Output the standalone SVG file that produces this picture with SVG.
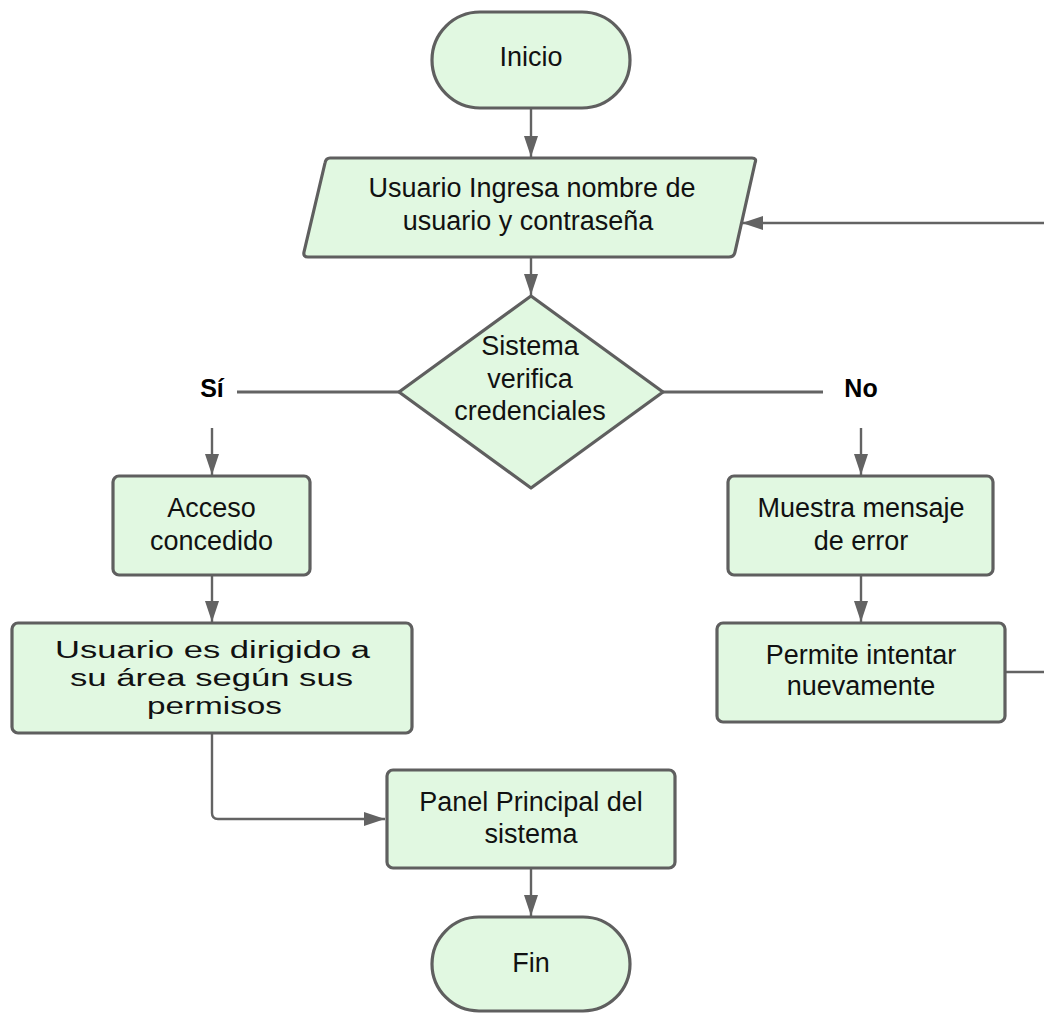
<svg xmlns="http://www.w3.org/2000/svg" width="1044" height="1014" viewBox="0 0 1044 1014">
  <defs>
    <style>
      .node { fill: #e1f8e1; stroke: #5f5f5f; stroke-width: 3.2; stroke-linejoin: round; }
      .lbl { font-family: "Liberation Sans", Arial, sans-serif; font-size: 27px; fill: #111; text-anchor: middle; }
      .wide { font-family: "Liberation Sans", Arial, sans-serif; font-size: 23px; fill: #111; text-anchor: middle; }
      .branch { font-family: "Liberation Sans", Arial, sans-serif; font-size: 25px; font-weight: bold; fill: #000; text-anchor: middle; }
      .edge { fill: none; stroke: #636363; stroke-width: 2.4; }
      .edge-thick { fill: none; stroke: #636363; stroke-width: 3.2; }
    </style>
    <marker id="arrow" markerUnits="userSpaceOnUse" markerWidth="21" markerHeight="15" refX="21" refY="7.5" orient="auto">
      <path d="M0,0.5 L21,7.5 L0,14.5 Z" fill="#636363"/>
    </marker>
  </defs>

  <rect width="1044" height="1014" fill="#ffffff"/>

  <!-- connectors -->
  <g id="connectors">
    <line class="edge" x1="531" y1="109" x2="531" y2="157" marker-end="url(#arrow)"/>
    <line class="edge" x1="531" y1="258" x2="531" y2="295" marker-end="url(#arrow)"/>
    <line class="edge-thick" x1="399" y1="392" x2="237" y2="392"/>
    <line class="edge-thick" x1="663" y1="392" x2="823" y2="392"/>
    <line class="edge" x1="212" y1="428" x2="212" y2="475" marker-end="url(#arrow)"/>
    <line class="edge" x1="861" y1="428" x2="861" y2="475" marker-end="url(#arrow)"/>
    <line class="edge" x1="212" y1="576" x2="212" y2="622" marker-end="url(#arrow)"/>
    <line class="edge" x1="861" y1="576" x2="861" y2="622" marker-end="url(#arrow)"/>
    <path class="edge" d="M212,734 V813 Q212,819 218,819 H385" marker-end="url(#arrow)"/>
    <line class="edge" x1="531" y1="869" x2="531" y2="916" marker-end="url(#arrow)"/>
    <path class="edge" d="M1006,672 H1052 V223 H742" marker-end="url(#arrow)"/>
  </g>

  <!-- Inicio -->
  <g id="inicio">
    <rect class="node" x="432" y="12" width="198" height="96" rx="48"/>
    <text class="lbl" x="531" y="66">Inicio</text>
  </g>

  <!-- entrada de credenciales -->
  <g id="ingreso">
    <path class="node" d="M330,158 H752 Q757,158 755,163 L735,252 Q734,257 729,257 H308 Q303,257 304,252 L325,163 Q326,158 330,158 Z"/>
    <text class="lbl" x="532" y="197">Usuario Ingresa nombre de</text>
    <text class="lbl" x="528" y="230">usuario y contraseña</text>
  </g>

  <!-- decisión -->
  <g id="verifica">
    <polygon class="node" points="531,296 663,392 531,488 399,392"/>
    <text class="lbl" x="530" y="355">Sistema</text>
    <text class="lbl" x="530" y="388">verifica</text>
    <text class="lbl" x="530" y="420">credenciales</text>
  </g>

  <text class="branch" x="212" y="397">Sí</text>
  <text class="branch" x="861" y="397">No</text>

  <!-- rama Sí -->
  <g id="acceso">
    <rect class="node" x="113" y="476" width="197" height="99" rx="6"/>
    <text class="lbl" x="211.5" y="517">Acceso</text>
    <text class="lbl" x="211.5" y="550">concedido</text>
  </g>

  <g id="dirigido">
    <rect class="node" x="12" y="623" width="400" height="110" rx="6"/>
    <text class="wide" x="212.5" y="658" textLength="315" lengthAdjust="spacingAndGlyphs">Usuario es dirigido a</text>
    <text class="wide" x="211.5" y="686" textLength="283" lengthAdjust="spacingAndGlyphs">su área según sus</text>
    <text class="wide" x="214.5" y="714" textLength="135" lengthAdjust="spacingAndGlyphs">permisos</text>
  </g>

  <!-- rama No -->
  <g id="error">
    <rect class="node" x="728" y="476" width="265" height="99" rx="6"/>
    <text class="lbl" x="861" y="517">Muestra mensaje</text>
    <text class="lbl" x="861" y="550">de error</text>
  </g>

  <g id="reintentar">
    <rect class="node" x="717" y="623" width="288" height="99" rx="6"/>
    <text class="lbl" x="861" y="664">Permite intentar</text>
    <text class="lbl" x="861" y="695">nuevamente</text>
  </g>

  <!-- panel -->
  <g id="panel">
    <rect class="node" x="387" y="770" width="288" height="98" rx="6"/>
    <text class="lbl" x="531" y="811">Panel Principal del</text>
    <text class="lbl" x="531" y="843">sistema</text>
  </g>

  <!-- Fin -->
  <g id="fin">
    <rect class="node" x="432" y="917" width="198" height="94" rx="47"/>
    <text class="lbl" x="531" y="972">Fin</text>
  </g>
</svg>
